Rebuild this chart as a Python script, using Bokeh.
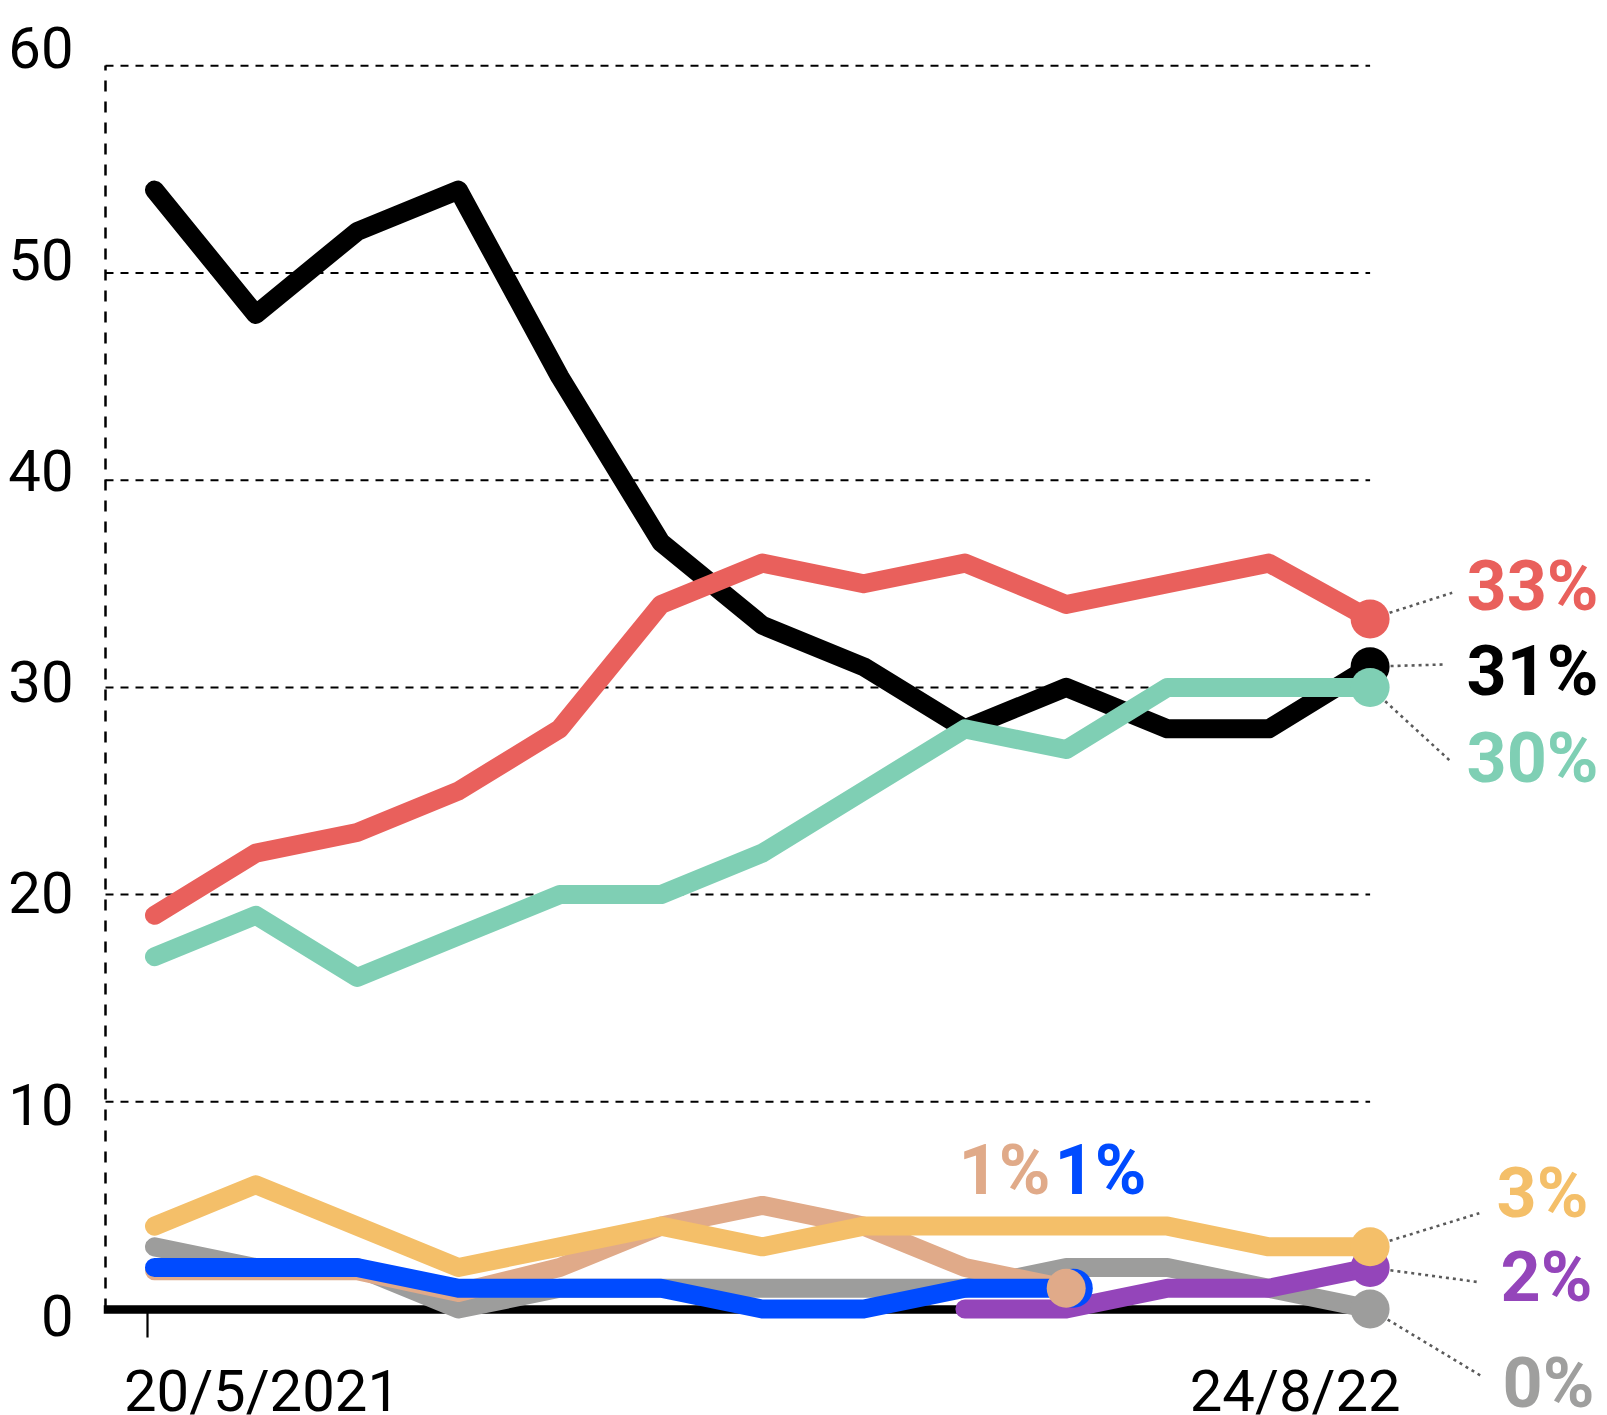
import math
from bokeh.plotting import figure
from bokeh.models import Range1d, LinearAxis, FixedTicker, CustomJSTickFormatter
from bokeh.core.properties import value
from bokeh.embed import file_html
from bokeh.resources import INLINE

# ---------------- data ----------------
POLLS = list(range(13))
BLACK = [54, 48, 52, 54, 45, 37, 33, 31, 28, 30, 28, 28, 31]
RED = [19, 22, 23, 25, 28, 34, 36, 35, 36, 34, 35, 36, 33.3]
TEAL = [17, 19, 16, 18, 20, 20, 22, 25, 28, 27, 30, 30, 30]
YELLOW = [4, 6, 4, 2, 3, 4, 3, 4, 4, 4, 4, 3, 3]
GREY = [3, 2, 2, 0, 1, 1, 1, 1, 1, 2, 2, 1, 0]
TAN_X = [0, 1, 2, 3, 4, 5, 6, 7, 8, 9]
TAN = [1.85, 1.85, 1.85, 0.8, 2, 4, 5, 4, 2, 1]
BLUE_X = [0, 1, 2, 3, 4, 5, 6, 7, 8, 9.07]
BLUE = [2, 2, 2, 1, 1, 1, 0, 0, 1, 1]
PURPLE_X = [8, 9, 10, 11, 12]
PURPLE = [0, 0, 1, 1, 2]
Y_TICKS = [0, 10, 20, 30, 40, 50, 60]
GRID_VALUES = [10, 20, 30, 40, 50, 60]
DATE_LABELS = ["20/5/2021", "24/8/22"]

C_BLACK = "#000000"
C_RED = "#E9605C"
C_TEAL = "#7FCFB4"
C_YELLOW = "#F4BF69"
C_GREY = "#9D9D9C"
C_TAN = "#E0AA89"
C_BLUE = "#004BFF"
C_PURPLE = "#9445BA"

# ---------------- layout ----------------
W, H = 1607, 1415
PAGE = 0
LEFT = 103
X0_PX, X_STEP = 154.0, 101.3      # page px of poll 0, px per poll
Y0_PX, Y_STEP = 1308.5, 20.72     # page px of value 0, px per unit
L0_PX, L_STEP = 1315.0, 21.13     # tick-label scale


def xr(px):
    return (px - X0_PX) / X_STEP


def yr(px):
    return (Y0_PX - px) / Y_STEP


def to_px(x, y):
    return X0_PX + x * X_STEP, Y0_PX - y * Y_STEP


FONT = "Roboto"

p = figure(width=W, height=H,
           x_range=Range1d(xr(PAGE + LEFT), xr(PAGE + W)),
           y_range=Range1d(yr(PAGE + H), yr(PAGE)),
           output_backend="svg", toolbar_location=None,
           x_axis_location=None, y_axis_location=None,
           min_border_left=LEFT, min_border_right=0,
           min_border_top=0, min_border_bottom=0,
           outline_line_color=None,
           background_fill_color="white", border_fill_color="white")
p.grid.visible = False

p.extra_y_ranges = {"lab": Range1d((L0_PX - (PAGE + H)) / L_STEP, (L0_PX - PAGE) / L_STEP)}

# dashed vertical axis line
vaxis = LinearAxis(fixed_location=xr(105), bounds=(0, 60),
                   ticker=FixedTicker(ticks=[]),
                   axis_line_color="black", axis_line_width=2.5, axis_line_dash="11 10",
                   major_tick_line_color=None, minor_tick_line_color=None,
                   major_label_text_font_size="0px")
p.add_layout(vaxis, "left")

# tick labels
yaxis = LinearAxis(y_range_name="lab", ticker=FixedTicker(ticks=Y_TICKS),
                   axis_line_color=None, major_tick_line_color=None,
                   minor_tick_line_color=None, major_tick_out=0, major_tick_in=0,
                   major_label_standoff=30,
                   major_label_text_font=FONT, major_label_text_font_size="58px",
                   major_label_text_color="black")
p.add_layout(yaxis, "left")

# dashed gridlines
p.segment(x0=[xr(105)] * len(GRID_VALUES), x1=[POLLS[-1]] * len(GRID_VALUES),
          y0=GRID_VALUES, y1=GRID_VALUES,
          line_color="black", line_width=2, line_dash="8 7")

# zero baseline + tick
xaxis = LinearAxis(fixed_location=0, bounds=(xr(103.3), POLLS[-1]),
                   ticker=FixedTicker(ticks=[xr(146.5)]),
                   formatter=CustomJSTickFormatter(code="return ''"),
                   axis_line_color="black", axis_line_width=8.5,
                   major_tick_out=28, major_tick_in=0, major_tick_line_width=2.2,
                   major_tick_line_color="black", minor_tick_line_color=None,
                   major_label_text_font_size="0px", level="underlay")
p.add_layout(xaxis, "below")

# date labels
daxis = LinearAxis(fixed_location=0,
                   ticker=FixedTicker(ticks=[xr(261.5), xr(1294.7)]),
                   formatter=CustomJSTickFormatter(args=dict(labels=DATE_LABELS),
                                                   code="return labels[index]"),
                   axis_line_color=None, major_tick_line_color=None,
                   minor_tick_line_color=None, major_tick_out=0, major_tick_in=0,
                   major_label_standoff=48,
                   major_label_text_font=FONT, major_label_text_font_size="58px",
                   major_label_text_color="black")
p.add_layout(daxis, "below")

LW = 19
series = [
    (POLLS, BLACK, C_BLACK),
    (POLLS, RED, C_RED),
    (POLLS, TEAL, C_TEAL),
    (POLLS, GREY, C_GREY),
    (TAN_X, TAN, C_TAN),
    (POLLS, YELLOW, C_YELLOW),
    (BLUE_X, BLUE, C_BLUE),
    (PURPLE_X, PURPLE, C_PURPLE),
]
for xs, ys, c in series:
    p.line(xs, ys, line_width=LW, line_color=c, line_cap="round", line_join="round")

# connectors from end dots to labels (end points in page px)
DOT = 39
connectors = [
    (POLLS, RED, (1451.7, 592.3)),
    (POLLS, BLACK, (1442.7, 664.0)),
    (POLLS, TEAL, (1450.0, 760.7)),
    (POLLS, YELLOW, (1478.8, 1212.7)),
    (PURPLE_X, PURPLE, (1478.8, 1281.7)),
    (POLLS, GREY, (1480.0, 1375.0)),
]
cx0, cy0, cx1, cy1 = [], [], [], []
for xs, ys, (ex, ey) in connectors:
    sx, sy = to_px(xs[-1], ys[-1])
    d = math.hypot(ex - sx, ey - sy)
    r = DOT / 2 + 1
    bx, by = sx + (ex - sx) * r / d, sy + (ey - sy) * r / d
    cx0.append(xr(bx)); cy0.append(yr(by)); cx1.append(xr(ex)); cy1.append(yr(ey))
p.segment(x0=cx0, y0=cy0, x1=cx1, y1=cy1, line_color="#5a5a5a",
          line_width=2.6, line_dash="3 4")

# end dots
for xs, ys, c in [(POLLS, BLACK, C_BLACK), (POLLS, RED, C_RED), (POLLS, TEAL, C_TEAL),
                  (POLLS, GREY, C_GREY), (PURPLE_X, PURPLE, C_PURPLE),
                  (POLLS, YELLOW, C_YELLOW), (BLUE_X, BLUE, C_BLUE), (TAN_X, TAN, C_TAN)]:
    p.scatter([xs[-1]], [ys[-1]], size=DOT, fill_color=c, line_color=None)

# percentage labels (left edge, vertical centre in page px)
labels = [
    (RED, C_RED, 1466.0, 585.0),
    (BLACK, C_BLACK, 1466.0, 670.3),
    (TEAL, C_TEAL, 1466.0, 757.8),
    (YELLOW, C_YELLOW, 1496.0, 1192.5),
    (PURPLE, C_PURPLE, 1500.0, 1276.0),
    (GREY, "#9F9F9E", 1502.0, 1382.5),
    (TAN, C_TAN, 958.0, 1169.0),
    (BLUE, C_BLUE, 1054.0, 1169.0),
]
for ys, c, lx, ly in labels:
    p.text(x=[xr(lx)], y=[yr(ly)], text=[f"{round(ys[-1])}%"],
           text_font=value(FONT), text_font_style="bold", text_font_size="70px",
           text_color=c, text_align="left", text_baseline="middle")

open("out.html", "w").write(file_html(p, INLINE))
